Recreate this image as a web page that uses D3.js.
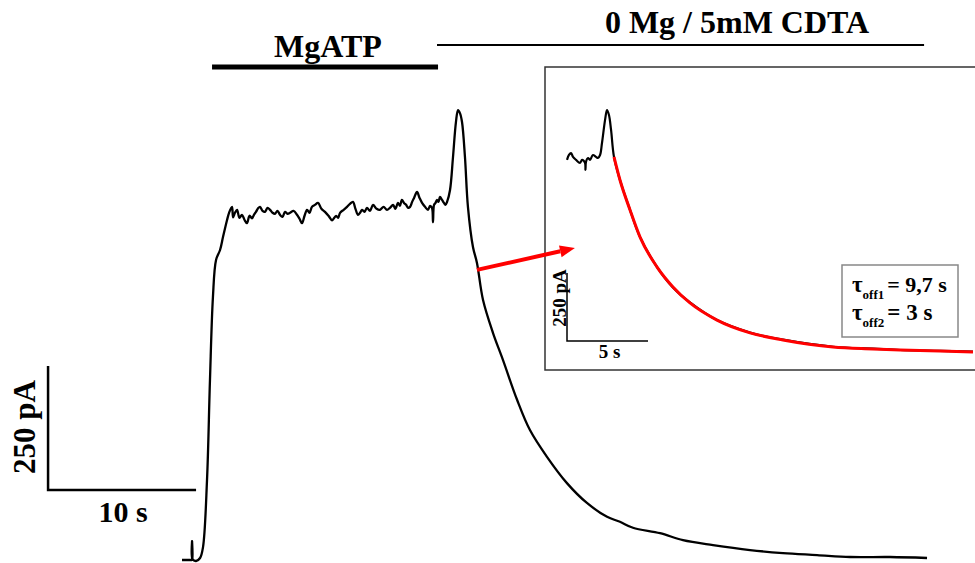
<!DOCTYPE html>
<html>
<head>
<meta charset="utf-8">
<script src="https://cdn.jsdelivr.net/npm/d3@7"></script>
<style>
  html, body { margin: 0; padding: 0; background: #fff; }
  svg { display: block; }
  text { font-family: "Liberation Serif", "Times New Roman", serif; font-weight: bold; fill: #000; }
</style>
</head>
<body>
<svg id="chart" width="975" height="563"></svg>
<script>
// ---- Main whole-cell current trace (time in s, current in pA) ----
const mainTime = [0, 0.61, 0.68, 0.68, 0.71, 0.95, 1.22, 1.42, 1.69, 1.89, 2.09, 2.30, 2.57, 2.77, 3.04, 3.18, 3.38, 3.45, 3.58, 3.72, 3.88, 4.05, 4.22, 4.39, 4.56, 4.73, 4.86, 5.00, 5.14, 5.27, 5.44, 5.61, 5.78, 5.95, 6.12, 6.28, 6.45, 6.62, 6.79, 6.96, 7.13, 7.30, 7.54, 7.77, 7.94, 8.11, 8.28, 8.45, 8.62, 8.78, 8.98, 9.19, 9.42, 9.66, 9.90, 10.14, 10.41, 10.55, 10.68, 10.92, 11.15, 11.35, 11.55, 11.72, 11.89, 12.03, 12.16, 12.33, 12.50, 12.70, 12.91, 13.15, 13.38, 13.62, 13.85, 14.05, 14.26, 14.42, 14.59, 14.72, 14.86, 15.00, 15.14, 15.28, 15.41, 15.55, 15.68, 15.88, 16.05, 16.22, 16.42, 16.62, 16.76, 16.89, 16.96, 17.03, 17.13, 17.23, 17.33, 17.43, 17.57, 17.70, 17.80, 17.91, 18.11, 18.31, 18.51, 18.65, 18.78, 18.92, 19.12, 19.32, 19.66, 19.93, 20.34, 21.01, 21.69, 22.64, 23.51, 24.66, 26.01, 27.36, 28.72, 29.59, 30.47, 32.30, 33.85, 35.88, 38.38, 40.61, 42.91, 45.14, 47.84, 50.34];
const mainCurrent = [0, 0, 0, 38, 2, -2, 4, 26, 161, 363, 530, 605, 625, 651, 685, 700, 712, 691, 700, 706, 690, 696, 686, 679, 694, 689, 696, 702, 709, 712, 704, 702, 710, 706, 700, 698, 704, 696, 692, 702, 698, 700, 704, 696, 688, 679, 694, 706, 700, 712, 716, 720, 708, 702, 694, 685, 694, 690, 700, 706, 712, 718, 722, 708, 696, 700, 706, 702, 710, 704, 716, 708, 706, 712, 706, 710, 716, 708, 720, 714, 726, 720, 716, 710, 712, 722, 730, 742, 730, 720, 712, 706, 714, 710, 681, 716, 720, 726, 722, 732, 726, 720, 716, 722, 746, 812, 883, 907, 901, 883, 812, 712, 631, 599, 524, 458, 403, 323, 262, 208, 155, 115, 87, 77, 65, 54, 40, 30, 20, 14, 10, 6, 6, 4];

// ---- Inset: expanded trace (time in s, current in pA) ----
const insetTime = [0, 0.12, 0.25, 0.37, 0.56, 0.80, 0.93, 1.11, 1.14, 1.17, 1.30, 1.42, 1.60, 1.79, 1.91, 2.04, 2.16, 2.35, 2.47, 2.59, 2.72, 2.90, 3.27, 3.89, 4.51, 5.56, 6.54, 7.59, 9.26, 11.30, 13.33, 16.42, 18.89, 20.56, 23.02, 25.06];
const insetCurrent = [721, 739, 746, 732, 721, 710, 721, 710, 684, 713, 728, 721, 739, 732, 728, 739, 783, 868, 904, 886, 831, 732, 647, 537, 437, 327, 252, 197, 132, 86, 60, 34, 27, 22, 19, 16];

// ---- Inset: double-exponential fit (red) ----
const fitTime = [2.90, 3.27, 3.89, 4.51, 5.56, 6.54, 7.59, 9.26, 11.30, 13.33, 16.42, 18.89, 20.56, 23.02, 25.06];
const fitCurrent = [732, 647, 537, 437, 327, 254, 195, 132, 85, 59, 33, 26, 22, 18, 15];

// ---- Solution application bars ----
const solutionLabels = ["MgATP", "0 Mg / 5mM CDTA"];
const solutionStart = [2.03, 17.23];
const solutionEnd = [17.30, 50.14];

// ---- Scale bars ----
const mainScaleBar = { t: -9.05, i: 141, dt: 10, di: 250, tLabel: "10 s", iLabel: "250 pA" };
const insetScaleBar = { t: 0, i: 55, dt: 5, di: 250, tLabel: "5 s", iLabel: "250 pA" };

// ---- Time constants ----
const tauNames = ["off1", "off2"];
const tauValues = ["9,7 s", "3 s"];

// ---- Arrow (main trace -> inset) ----
const arrowFrom = { t: 19.93, i: 585 };
const arrowTo = { t: 0.49, i: 397 };

const svg = d3.select("#chart");

// Scales
const x = d3.scaleLinear().domain([0, 50]).range([182, 922]);
const y = d3.scaleLinear().domain([0, 1000]).range([560, 64]);
const xi = d3.scaleLinear().domain([0, 25]).range([567, 972]);
const yi = d3.scaleLinear().domain([0, 1000]).range([356, 84]);

const smooth = d3.curveCatmullRom.alpha(0.5);

// Main trace
const mainData = mainTime.map((t, k) => [t, mainCurrent[k]]);
svg.append("path")
  .datum(mainData)
  .attr("fill", "none")
  .attr("stroke", "#000")
  .attr("stroke-width", 2.3)
  .attr("stroke-linejoin", "round")
  .attr("d", d3.line().curve(smooth).x(d => x(d[0])).y(d => y(d[1])));

// Solution bars
const barY = [67, 45];
const barW = [5, 2];
const labelY = [57, 33];
const labelSize = [32, 32];
solutionLabels.forEach((lab, k) => {
  svg.append("line")
    .attr("x1", x(solutionStart[k])).attr("x2", x(solutionEnd[k]))
    .attr("y1", barY[k]).attr("y2", barY[k])
    .attr("stroke", "#000").attr("stroke-width", barW[k]);
});
svg.append("text").attr("x", 328).attr("y", labelY[0]).attr("text-anchor", "middle")
  .attr("font-size", labelSize[0]).text(solutionLabels[0]);
svg.append("text").attr("x", 737).attr("y", labelY[1]).attr("text-anchor", "middle")
  .attr("font-size", labelSize[1]).text(solutionLabels[1]);

// Main scale bar
{
  const x0 = x(mainScaleBar.t), y0 = y(mainScaleBar.i);
  const x1 = x(mainScaleBar.t + mainScaleBar.dt), y1 = y(mainScaleBar.i + mainScaleBar.di);
  svg.append("path")
    .attr("d", `M${x0},${y1}L${x0},${y0}L${x1},${y0}`)
    .attr("fill", "none").attr("stroke", "#000").attr("stroke-width", 2.5);
  svg.append("text").attr("x", (x0 + x1) / 2 + 1).attr("y", y0 + 32)
    .attr("text-anchor", "middle").attr("font-size", 30).text(mainScaleBar.tLabel);
  svg.append("text")
    .attr("transform", `translate(${x0 - 13},${(y0 + y1) / 2 - 1}) rotate(-90)`)
    .attr("text-anchor", "middle").attr("font-size", 31).text(mainScaleBar.iLabel);
}

// Inset frame
svg.append("rect")
  .attr("x", 545).attr("y", 67).attr("width", 440).attr("height", 303)
  .attr("fill", "none").attr("stroke", "#333").attr("stroke-width", 1.5);

// Inset trace
const insetData = insetTime.map((t, k) => [t, insetCurrent[k]]);
svg.append("path")
  .datum(insetData)
  .attr("fill", "none").attr("stroke", "#000").attr("stroke-width", 2.2)
  .attr("stroke-linejoin", "round")
  .attr("d", d3.line().curve(smooth).x(d => xi(d[0])).y(d => yi(d[1])));

// Fit
const fitData = fitTime.map((t, k) => [t, fitCurrent[k]]);
svg.append("path")
  .datum(fitData)
  .attr("fill", "none").attr("stroke", "#ff0000").attr("stroke-width", 3)
  .attr("stroke-linejoin", "round")
  .attr("d", d3.line().curve(d3.curveMonotoneX).x(d => xi(d[0])).y(d => yi(d[1])));

// Inset scale bar
{
  const x0 = xi(insetScaleBar.t), y0 = yi(insetScaleBar.i);
  const x1 = xi(insetScaleBar.t + insetScaleBar.dt), y1 = yi(insetScaleBar.i + insetScaleBar.di);
  svg.append("path")
    .attr("d", `M${x0},${y1}L${x0},${y0}L${x1},${y0}`)
    .attr("fill", "none").attr("stroke", "#000").attr("stroke-width", 1.5);
  svg.append("text").attr("x", (x0 + x1) / 2 + 2).attr("y", y0 + 17)
    .attr("text-anchor", "middle").attr("font-size", 19).text(insetScaleBar.tLabel);
  svg.append("text")
    .attr("transform", `translate(${x0 - 1},${(y0 + y1) / 2 - 9}) rotate(-90)`)
    .attr("text-anchor", "middle").attr("font-size", 19).text(insetScaleBar.iLabel);
}

// Tau box
svg.append("rect")
  .attr("x", 842).attr("y", 265).attr("width", 116).attr("height", 72)
  .attr("fill", "#fff").attr("stroke", "#888").attr("stroke-width", 1.5);
tauNames.forEach((nm, k) => {
  const t = svg.append("text").attr("x", 852).attr("y", 292 + k * 28).attr("font-size", k === 0 ? 22 : 23);
  t.append("tspan").attr("font-size", 23).text("τ");
  t.append("tspan").attr("font-size", 13).attr("dy", 7).text(nm);
  t.append("tspan").attr("dy", -7).attr("dx", 3).text("= " + tauValues[k]);
});

// Arrow
{
  const ax0 = x(arrowFrom.t), ay0 = y(arrowFrom.i);
  const ax1 = xi(arrowTo.t), ay1 = yi(arrowTo.i);
  const ang = Math.atan2(ay1 - ay0, ax1 - ax0);
  const hl = 15, hw = 6;
  const bx = ax1 - hl * Math.cos(ang), by = ay1 - hl * Math.sin(ang);
  svg.append("line").attr("x1", ax0).attr("y1", ay0).attr("x2", bx).attr("y2", by)
    .attr("stroke", "#ff0000").attr("stroke-width", 4);
  const px = -Math.sin(ang), py = Math.cos(ang);
  svg.append("path")
    .attr("d", `M${ax1},${ay1}L${bx + hw * px},${by + hw * py}L${bx - hw * px},${by - hw * py}Z`)
    .attr("fill", "#ff0000");
}
</script>
</body>
</html>
